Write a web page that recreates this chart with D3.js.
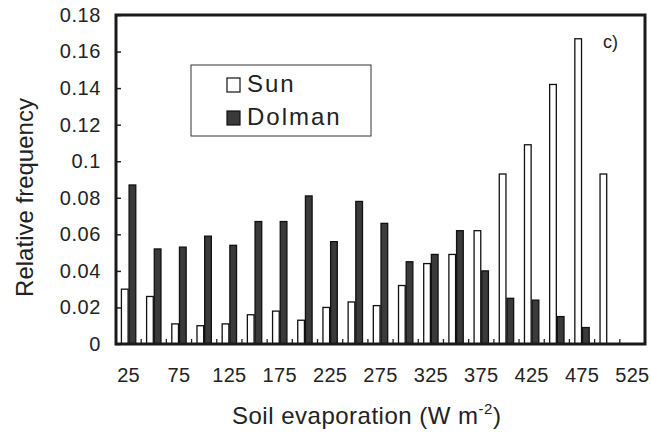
<!DOCTYPE html>
<html>
<head>
<meta charset="utf-8">
<script src="https://cdn.jsdelivr.net/npm/d3@7"></script>
<style>
    body { margin: 0; background: #fff; }
    text { font-family: "Liberation Sans", Arial, sans-serif; fill: #222; }
</style>
</head>
<body>
<div id="chart"></div>
<script>
// bins of soil evaporation (W m-2)
const categories = [25, 50, 75, 100, 125, 150, 175, 200, 225, 250, 275, 300, 325, 350, 375, 400, 425, 450, 475, 500, 525];
const xLabels = [25, 75, 125, 175, 225, 275, 325, 375, 425, 475, 525];
const sun = [0.030, 0.026, 0.011, 0.010, 0.011, 0.016, 0.018, 0.013, 0.020, 0.023, 0.021, 0.032, 0.044, 0.049, 0.062, 0.093, 0.109, 0.142, 0.167, 0.093, null];
const dolman = [0.087, 0.052, 0.053, 0.059, 0.054, 0.067, 0.067, 0.081, 0.056, 0.078, 0.066, 0.045, 0.049, 0.062, 0.040, 0.025, 0.024, 0.015, 0.009, null, null];
const yTicks = [0, 0.02, 0.04, 0.06, 0.08, 0.1, 0.12, 0.14, 0.16, 0.18];
const seriesNames = ["Sun", "Dolman"];
const seriesFill = { Sun: "#ffffff", Dolman: "#3a3a3a" };

const width = 651;
const height = 437;
const margin = { top: 15, right: 6, bottom: 93, left: 116 };
const innerW = width - margin.left - margin.right;
const innerH = height - margin.top - margin.bottom;

const svg = d3.select("#chart").append("svg")
    .attr("width", width)
    .attr("height", height);

const g = svg.append("g")
    .attr("transform", "translate(" + margin.left + "," + margin.top + ")");

const x0 = d3.scaleBand().domain(categories).range([0, innerW]).padding(0);
const x1 = d3.scaleBand().domain(seriesNames).range([0, x0.bandwidth()]).paddingInner(0).paddingOuter(0.64);
const y = d3.scaleLinear().domain([0, 0.18]).range([innerH, 0]);

const rows = categories.map((c, i) => ({ cat: c, Sun: sun[i], Dolman: dolman[i] }));

// bars
const groups = g.selectAll(".grp")
    .data(rows)
    .enter().append("g")
    .attr("transform", d => "translate(" + x0(d.cat) + ",0)");

groups.selectAll("rect")
    .data(d => seriesNames.filter(k => d[k] != null).map(k => ({ key: k, value: d[k] })))
    .enter().append("rect")
    .attr("x", d => x1(d.key) + 0.5)
    .attr("width", x1.bandwidth() - 1)
    .attr("y", d => y(d.value))
    .attr("height", d => innerH - y(d.value))
    .attr("fill", d => seriesFill[d.key])
    .attr("stroke", "#111")
    .attr("stroke-width", 1.3);

// y axis, ticks pointing inward
const yAxis = g.append("g")
    .call(d3.axisLeft(y)
        .tickValues(yTicks)
        .tickSizeInner(-5)
        .tickSizeOuter(0)
        .tickPadding(15)
        .tickFormat(d => d === 0 ? "0" : String(+d.toFixed(2))));
yAxis.select(".domain").remove();
yAxis.selectAll("line").attr("stroke", "#222").attr("stroke-width", 1.5);
yAxis.selectAll("text").attr("font-size", 20).style("letter-spacing", "0.6px");

// x axis labels at bin centres
const xAxis = g.append("g")
    .attr("transform", "translate(0," + innerH + ")")
    .call(d3.axisBottom(x0)
        .tickValues(xLabels)
        .tickSize(0)
        .tickPadding(24));
xAxis.select(".domain").remove();
xAxis.selectAll("text").attr("font-size", 20).style("letter-spacing", "0.3px");

// small inward ticks at bin boundaries
g.selectAll(".xtick")
    .data(categories.slice(1))
    .enter().append("line")
    .attr("x1", d => x0(d))
    .attr("x2", d => x0(d))
    .attr("y1", innerH)
    .attr("y2", innerH - 5)
    .attr("stroke", "#222")
    .attr("stroke-width", 1.3);

// frame
g.append("rect")
    .attr("width", innerW)
    .attr("height", innerH)
    .attr("fill", "none")
    .attr("stroke", "#1a1a1a")
    .attr("stroke-width", 3);

// axis titles
svg.append("text")
    .attr("transform", "translate(33," + (margin.top + innerH / 2 + 18) + ") rotate(-90)")
    .attr("text-anchor", "middle")
    .attr("font-size", 24)
    .text("Relative frequency");

const xt = svg.append("text")
    .attr("x", 232)
    .attr("y", 424)
    .attr("font-size", 24)
    .style("letter-spacing", "0.5px")
    .text("Soil evaporation (W m");
xt.append("tspan").attr("dy", -10).attr("font-size", 15).text("-2");
xt.append("tspan").attr("dy", 10).text(")");

svg.append("text")
    .attr("x", 603)
    .attr("y", 48)
    .attr("font-size", 18)
    .text("c)");

// legend
const leg = svg.append("g");
leg.append("rect")
    .attr("x", 191).attr("y", 65)
    .attr("width", 180).attr("height", 71)
    .attr("fill", "#fff")
    .attr("stroke", "#333")
    .attr("stroke-width", 1);

const items = leg.selectAll(".item")
    .data(seriesNames)
    .enter().append("g")
    .attr("transform", (d, i) => "translate(227," + (78 + i * 33) + ")");
items.append("rect")
    .attr("width", 13).attr("height", 14)
    .attr("fill", d => seriesFill[d])
    .attr("stroke", "#111")
    .attr("stroke-width", 1.2);
items.append("text")
    .attr("x", 20)
    .attr("y", 14)
    .attr("font-size", 24)
    .style("letter-spacing", "2px")
    .text(d => d);
</script>
</body>
</html>
